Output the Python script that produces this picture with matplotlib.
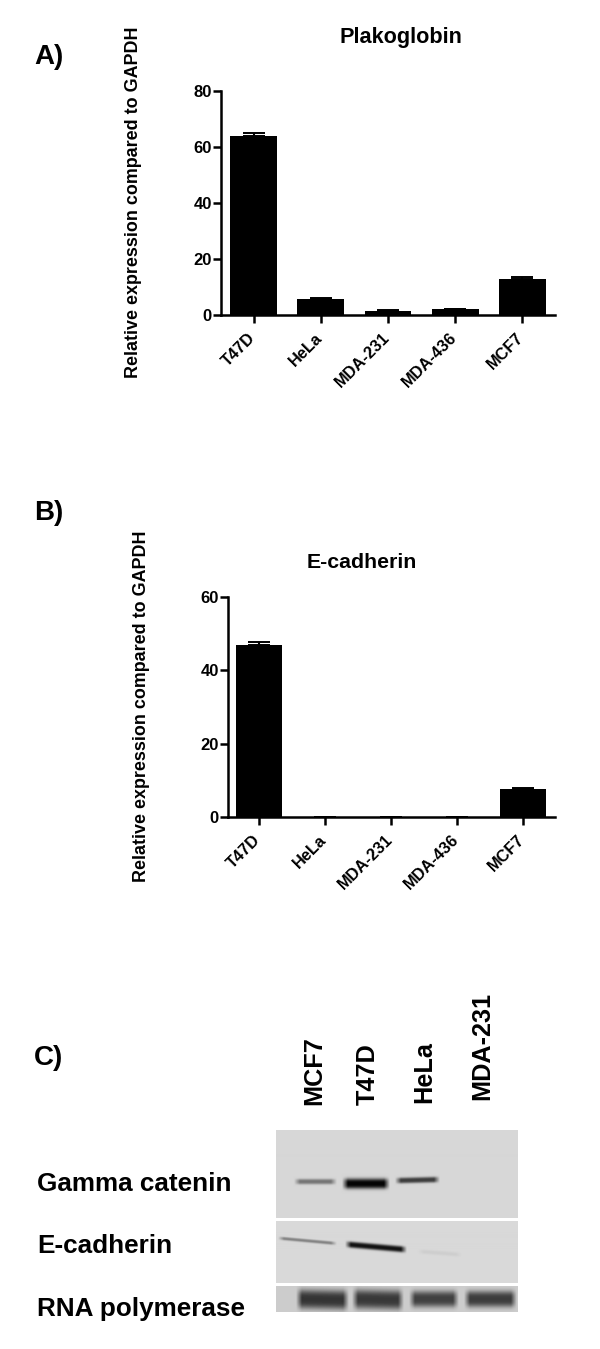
import numpy as np
import matplotlib
matplotlib.use("Agg")
import matplotlib.pyplot as plt

plt.rcParams['font.family'] = ['Liberation Sans', 'DejaVu Sans']
plt.rcParams['font.weight'] = 'bold'

W, H = 600, 1349

categories = ["T47D", "HeLa", "MDA-231", "MDA-436", "MCF7"]
plako_values = [64.0, 5.7, 1.6, 2.1, 12.7]
plako_errors = [1.0, 0.5, 0.1, 0.1, 0.7]
ecad_values = [46.8, 0.05, 0.05, 0.05, 7.7]
ecad_errors = [0.8, 0.0, 0.0, 0.0, 0.3]
plako_ticks = [0, 20, 40, 60, 80]
ecad_ticks = [0, 20, 40, 60]
blot_lanes = ["MCF7", "T47D", "HeLa", "MDA-231"]
blot_rows = ["Gamma catenin", "E-cadherin", "RNA polymerase"]

# bands: x0, x1, y0, y1 (pixels on the scan), half thickness, darkness
gamma_bands = [(296, 335, 1182, 1182, 2.6, 0.45),
               (344, 388, 1184, 1184, 5.0, 0.98),
               (397, 438, 1181, 1180, 2.8, 0.72)]
ecad_bands = [(280, 335, 1239, 1244, 1.6, 0.40),
              (347, 405, 1245, 1250, 3.0, 0.92),
              (420, 460, 1252, 1255, 2.0, 0.05)]
pol_bands = [(298, 347, 1299, 1300, 9.5, 0.74),
             (354, 402, 1299, 1300, 9.5, 0.72),
             (411, 457, 1299, 1299, 8.0, 0.68),
             (466, 515, 1299, 1299, 8.0, 0.70)]
blot_panels = [((276, 518, 1130, 1218), 0.84, gamma_bands),
               ((276, 518, 1221, 1283), 0.85, ecad_bands),
               ((276, 518, 1286, 1312), 0.80, pol_bands)]

fig = plt.figure(figsize=(W / 100, H / 100), dpi=100, facecolor='white')


def px_axes(x0, x1, ytop, ybot):
    return fig.add_axes([x0 / W, 1 - ybot / H, (x1 - x0) / W, (ybot - ytop) / H])


def ftext(x, y, s, **kw):
    fig.text(x / W, 1 - y / H, s, fontweight='bold', color='black', **kw)


def bar_panel(box, xlim, values, errors, ticks, ymax):
    ax = px_axes(*box)
    xs = np.arange(len(values))
    ax.bar(xs, values, width=0.70, color='black', edgecolor='black', linewidth=0)
    ax.errorbar(xs, values, yerr=[np.zeros(len(errors)), errors], fmt='none',
                ecolor='black', elinewidth=1.5, capsize=8, capthick=1.4)
    ax.set_xlim(*xlim)
    ax.set_ylim(0, ymax)
    ax.set_yticks(ticks)
    ax.set_xticks(xs)
    ax.set_xticklabels([])
    for x, s in zip(xs, categories):
        ax.annotate(s, xy=(x, 0), xycoords=('data', 'axes fraction'),
                    xytext=(-4.5, -10.8), textcoords='offset points',
                    rotation=45, ha='right', va='top', rotation_mode='anchor',
                    fontsize=11.8, fontweight='bold', annotation_clip=False)
    ax.tick_params(axis='y', width=1.8, length=5.6, labelsize=12, pad=1)
    ax.tick_params(axis='x', width=1.8, length=5.6)
    for s in ('top', 'right'):
        ax.spines[s].set_visible(False)
    for s in ('left', 'bottom'):
        ax.spines[s].set_linewidth(1.8)
    return ax


bar_panel((221, 555, 91, 315), (-0.49, 4.49), plako_values, plako_errors, plako_ticks, 80)
bar_panel((228, 555, 597, 817), (-0.47, 4.48), ecad_values, ecad_errors, ecad_ticks, 60)

ftext(34, 57, "A)", fontsize=20, ha='left', va='center')
ftext(34, 513, "B)", fontsize=20, ha='left', va='center')
ftext(34, 1058, "C)", fontsize=20, ha='left', va='center')
ftext(401, 37, "Plakoglobin", fontsize=15.6, ha='center', va='center')
ftext(362, 562, "E-cadherin", fontsize=15.3, ha='center', va='center')
ftext(134, 202, "Relative expression compared to GAPDH", fontsize=12.9, rotation=90,
      ha='center', va='center')
ftext(142, 706, "Relative expression compared to GAPDH", fontsize=12.9, rotation=90,
      ha='center', va='center')

# western blot panels
for (x0, x1, y0, y1), bg, bands in blot_panels:
    ax = px_axes(x0, x1, y0, y1)
    yy, xx = np.mgrid[y0:y1, x0:x1] + 0.5
    img = np.full(xx.shape, bg, dtype=float)
    for bx0, bx1, by0, by1, th, dark in bands:
        t = np.clip((xx - bx0) / (bx1 - bx0), 0, 1)
        centre = by0 + (by1 - by0) * t
        prof_y = np.exp(-(np.abs(yy - centre) / th) ** 3)
        prof_x = np.clip((xx - bx0 + 2) / 6, 0, 1) * np.clip((bx1 - xx + 2) / 6, 0, 1)
        img = img * (1 - dark * prof_y * prof_x)
    ax.imshow(img, cmap='gray', vmin=0, vmax=1, aspect='auto', interpolation='bilinear')
    ax.axis('off')

lane_x = [314, 368, 424, 482]
lane_y = [1105, 1105, 1103, 1100]
for x, y, s in zip(lane_x, lane_y, blot_lanes):
    ftext(x, y, s, fontsize=18.2, rotation=90, ha='center', va='bottom')

row_y = [1184, 1246, 1309]
for y, s in zip(row_y, blot_rows):
    ftext(37, y, s, fontsize=18.8, ha='left', va='center')

fig.savefig("out.png", dpi=100, facecolor='white')
